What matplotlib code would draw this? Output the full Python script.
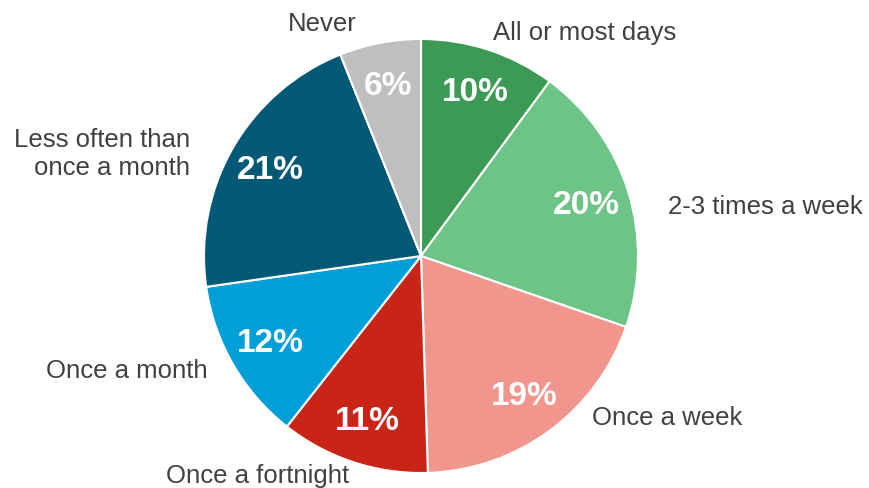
import numpy as np
import matplotlib.pyplot as plt

plt.rcParams['font.family'] = ['Liberation Sans', 'DejaVu Sans']

labels = ['All or most days', '2-3 times a week', 'Once a week', 'Once a fortnight',
          'Once a month', 'Less often than\nonce a month', 'Never']
values = [10, 20, 19, 11, 12, 21, 6]
colors = ['#3D9A55', '#6DC487', '#F1968D', '#C82418', '#009FD8', '#035875', '#BFBFBF']

# label placement relative to each wedge's middle: radius, angle shift (deg)
label_r = [1.084, 1.161, 1.082, 1.06, 1.115, 1.164, 1.114]
label_shift = [0.4, -5.9, 10.3, 0, -2, 6, 4.5]

fig = plt.figure(figsize=(8.69, 4.89), dpi=100)
ax = fig.add_axes([204 / 869, 15 / 489, 434 / 869, 434 / 489])

wedges, texts, autotexts = ax.pie(
    values, colors=colors, startangle=90, counterclock=False,
    autopct='%.0f%%', pctdistance=0.8,
    wedgeprops=dict(edgecolor='white', linewidth=1.5))

for t in autotexts:
    t.set_color('white')
    t.set_fontsize(24)
    t.set_fontweight('bold')

for w, lab, r, sh in zip(wedges, labels, label_r, label_shift):
    ang = np.deg2rad((w.theta1 + w.theta2) / 2 + sh)
    x, y = r * np.cos(ang), r * np.sin(ang)
    ha = 'left' if x > 0 else 'right'
    ax.text(x, y, lab, ha=ha, va='center', multialignment='right',
            fontsize=18.5, color='#404040')

ax.set_xlim(-1, 1)
ax.set_ylim(-1, 1)
ax.axis('off')

fig.savefig('out.png', dpi=100)
